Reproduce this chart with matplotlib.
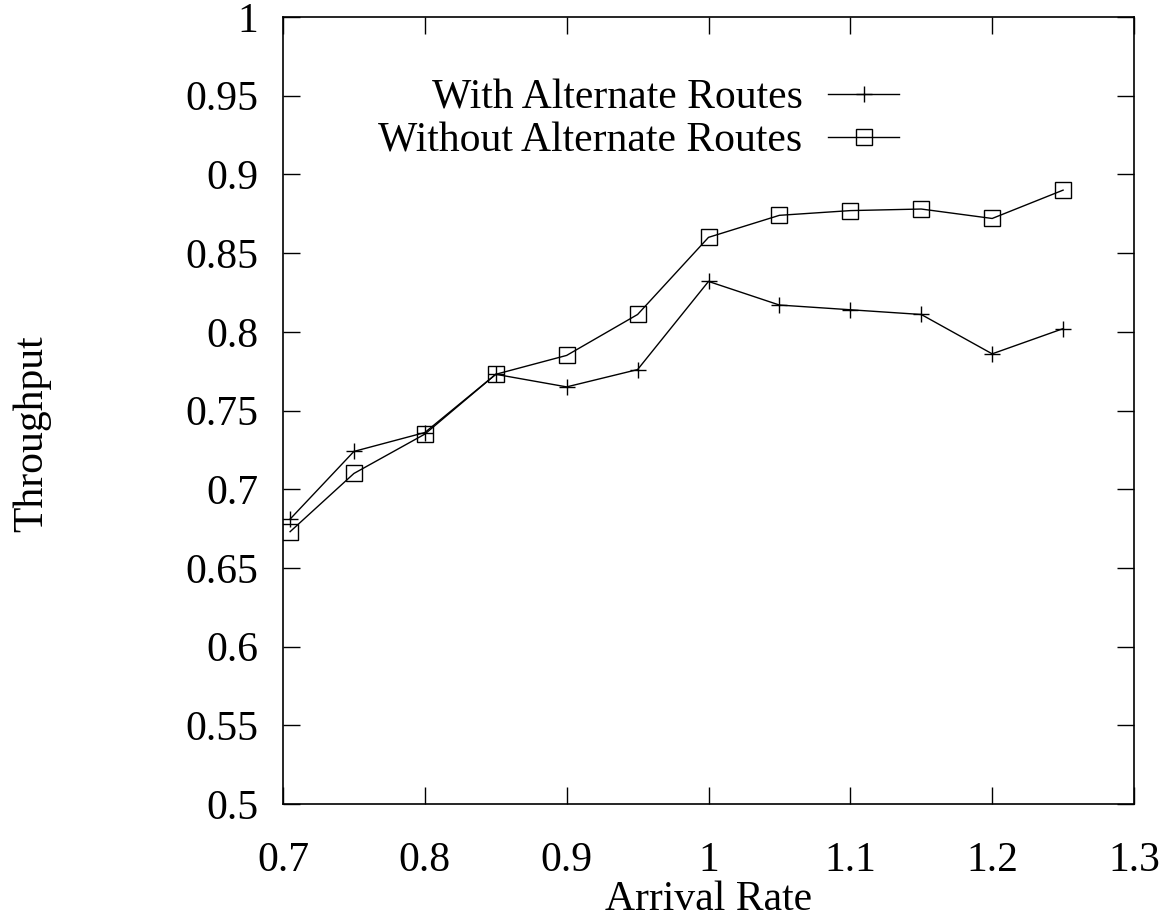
import matplotlib
matplotlib.use("Agg")
import matplotlib.pyplot as plt

# arrival rate (x) and throughput for both series
arrival = [0.705, 0.75, 0.8, 0.85, 0.9, 0.95, 1.0, 1.05, 1.1, 1.15, 1.2, 1.25]
with_alt = [0.681, 0.724, 0.736, 0.773, 0.765, 0.776, 0.832, 0.817, 0.814, 0.811, 0.786, 0.802]
without_alt = [0.673, 0.710, 0.735, 0.773, 0.785, 0.811, 0.860, 0.874, 0.877, 0.878, 0.872, 0.890]

xticks = [0.7, 0.8, 0.9, 1.0, 1.1, 1.2, 1.3]
xticklabels = ["0.7", "0.8", "0.9", "1", "1.1", "1.2", "1.3"]
yticks = [0.5, 0.55, 0.6, 0.65, 0.7, 0.75, 0.8, 0.85, 0.9, 0.95, 1.0]
yticklabels = ["0.5", "0.55", "0.6", "0.65", "0.7", "0.75", "0.8", "0.85", "0.9", "0.95", "1"]

plt.rcParams["font.family"] = ["Liberation Serif", "DejaVu Serif"]
plt.rcParams["font.size"] = 30

fig = plt.figure(figsize=(11.66, 9.19), dpi=100)
ax = fig.add_axes([283 / 1166, 1 - 804 / 919, 851 / 1166, 787 / 919])

ax.plot(arrival, with_alt, "k-", marker="+", markersize=11, markeredgewidth=1.0,
        linewidth=1.0, label="With Alternate Routes")
ax.plot(arrival, without_alt, "k-", marker="s", markersize=12, markerfacecolor="none",
        markeredgewidth=1.0, linewidth=1.0, label="Without Alternate Routes")

ax.set_xlim(0.7, 1.3)
ax.set_ylim(0.5, 1.0)
ax.set_xticks(xticks)
ax.set_xticklabels(xticklabels)
ax.set_yticks(yticks)
ax.set_yticklabels(yticklabels)
ax.tick_params(direction="in", length=12, width=1, top=True, right=True)
ax.tick_params(axis="y", pad=18)
ax.tick_params(axis="x", pad=27)
for s in ax.spines.values():
    s.set_linewidth(1.2)

ax.set_xlabel("Arrival Rate", labelpad=0)
ax.set_ylabel("Throughput")
ax.yaxis.set_label_coords(-0.272, 0.47)

ax.legend(loc="upper right", bbox_to_anchor=(0.724, 0.921), frameon=False,
          markerfirst=False, handlelength=1.7, handletextpad=0.62,
          labelspacing=0.1, borderpad=0, borderaxespad=0)

plt.savefig("out.png", dpi=100)
